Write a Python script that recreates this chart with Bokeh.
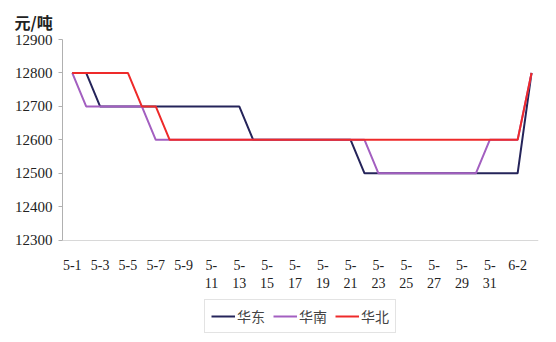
from bokeh.plotting import figure
from bokeh.models import (ColumnDataSource, Range1d, FixedTicker, Legend, LegendItem)
from bokeh.embed import file_html
from bokeh.resources import INLINE

dates = [f"5-{d}" for d in range(1, 32)] + ["6-1", "6-2", "6-3"]
huadong = [12800, 12800] + [12700] * 11 + [12600] * 8 + [12500] * 12 + [12800]
huanan = [12800] + [12700] * 5 + [12600] * 16 + [12500] * 8 + [12600] * 3 + [12800]
huabei = [12800] * 5 + [12700] * 2 + [12600] * 26 + [12800]
series_names = ["华东", "华南", "华北"]
series_colors = ["#25245a", "#a35fc0", "#ee2a2a"]
y_ticks = [12300, 12400, 12500, 12600, 12700, 12800, 12900]
y_min, y_max = 12300, 12900

x = list(range(len(dates)))
src = ColumnDataSource(dict(x=x, huadong=huadong, huanan=huanan, huabei=huabei))

# the frame extends below the value axis so that the legend can sit under the tick labels
p = figure(frame_width=476, frame_height=303, output_backend="svg", toolbar_location=None,
           x_range=Range1d(-0.7, len(dates) - 0.5), y_range=Range1d(11994, y_max),
           min_border_left=62, min_border_right=18, min_border_top=39, min_border_bottom=0)
p.outline_line_color = None
p.xgrid.grid_line_color = None
p.ygrid.grid_line_color = None
p.background_fill_color = "white"
p.border_fill_color = "white"

p.title.text = "元/吨"
p.title.align = "left"
p.title.offset = -48
p.title.text_font = "Noto Sans CJK SC"
p.title.text_font_size = "16px"
p.title.text_font_style = "bold"
p.title.text_color = "#222222"
p.title.standoff = 12

renderers = []
for col, name, color in zip(["huadong", "huanan", "huabei"], series_names, series_colors):
    r = p.line("x", col, source=src, line_color=color, line_width=2)
    renderers.append((name, r))

# y axis
p.yaxis.ticker = FixedTicker(ticks=y_ticks)
p.yaxis.bounds = (y_min, y_max)
p.yaxis.major_label_text_font = "Liberation Serif"
p.yaxis.major_label_text_font_size = "15px"
p.yaxis.major_label_text_color = "#222222"
p.yaxis.axis_line_color = "#b0b0b0"
p.yaxis.major_tick_line_color = "#b0b0b0"
p.yaxis.major_tick_out = 4
p.yaxis.major_tick_in = 0
p.yaxis.minor_tick_line_color = None
p.yaxis.major_label_standoff = 6

# x axis, drawn at the bottom of the value range
even = [i for i in x if i % 2 == 0 and i < len(dates) - 1]
labels = {}
for i in even:
    d = dates[i]
    m, day = d.split("-")
    labels[i] = d if len(day) == 1 else f"{m}-\n{day}"
p.xaxis.fixed_location = y_min
p.xaxis.ticker = FixedTicker(ticks=even)
p.xaxis.major_label_overrides = labels
p.xaxis.major_label_text_font = "Liberation Serif"
p.xaxis.major_label_text_font_size = "14px"
p.xaxis.major_label_text_color = "#222222"
p.xaxis.axis_line_color = "#d8d8d8"
p.xaxis.major_tick_line_color = None
p.xaxis.minor_tick_line_color = None
p.xaxis.major_label_standoff = 12

legend = Legend(items=[LegendItem(label=n, renderers=[r]) for n, r in renderers],
                orientation="horizontal", location="bottom_center",
                label_text_font="Noto Sans CJK SC", label_text_font_size="14px",
                glyph_width=24, label_standoff=2, spacing=8, padding=6, margin=9,
                border_line_color="#c8c8c8", background_fill_color="white",
                label_height=16, glyph_height=16)
p.add_layout(legend, "center")

open("out.html", "w").write(file_html(p, INLINE))
